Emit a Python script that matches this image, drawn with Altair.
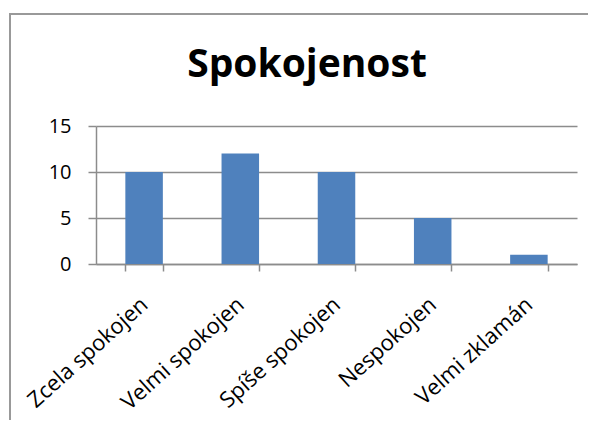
import altair as alt
import pandas as pd

categories = ["Zcela spokojen", "Velmi spokojen", "Spíše spokojen", "Nespokojen", "Velmi zklamán"]
values = [10, 12, 10, 5, 1]
y_ticks = [0, 5, 10, 15]
title_text = "Spokojenost"

df = pd.DataFrame({"kategorie": categories, "pocet": values})
title_df = pd.DataFrame({"t": [title_text]})

FONT = "Open Sans"
GRID = "#8c8c8c"
BORDER = "#999999"

bars = alt.Chart(df).mark_bar(color="#4F81BD").encode(
    x=alt.X(
        "kategorie:N",
        sort=categories,
        scale=alt.Scale(paddingInner=0.61, paddingOuter=0.305),
        axis=alt.Axis(
            title=None,
            labelAngle=-42,
            labelFont=FONT,
            labelFontSize=22,
            labelColor="#000000",
            labelAlign="right",
            labelBaseline="middle",
            labelPadding=30,
            tickBand="extent",
            tickSize=7,
            tickColor=GRID,
            tickWidth=1.5,
            domainColor=GRID,
            domainWidth=1.5,
            grid=False,
        ),
    ),
    y=alt.Y(
        "pocet:Q",
        scale=alt.Scale(domain=[0, 15]),
        axis=alt.Axis(
            title=None,
            values=y_ticks,
            labelFont=FONT,
            labelFontSize=20,
            labelColor="#000000",
            labelPadding=17,
            tickSize=8,
            tickColor=GRID,
            tickWidth=1.5,
            gridColor=GRID,
            gridWidth=1.5,
            domainColor=GRID,
            domainWidth=1.5,
        ),
    ),
)

# outer chart-area border (top and left edges; the rest lies beyond the picture)
border_top = alt.Chart(title_df).mark_rule(stroke=BORDER, strokeWidth=2).encode(
    x=alt.value(-87),
    x2=alt.value(492),
    y=alt.value(-112),
)
border_left = alt.Chart(title_df).mark_rule(stroke=BORDER, strokeWidth=2).encode(
    x=alt.value(-86),
    y=alt.value(-113),
    y2=alt.value(294),
)

title = alt.Chart(title_df).mark_text(
    font=FONT,
    fontSize=39,
    fontWeight="bold",
    color="#000000",
    align="center",
    baseline="alphabetic",
).encode(
    text="t:N",
    x=alt.value(211),
    y=alt.value(-49),
)

chart = alt.layer(border_top, border_left, bars, title).properties(
    width=481,
    height=138,
    autosize=alt.AutoSizeParams(type="none"),
    padding={"left": 88, "top": 118, "right": 11, "bottom": 156},
).configure_view(stroke=None)

chart.save("out.html", embed_options={"renderer": "svg", "actions": False})
